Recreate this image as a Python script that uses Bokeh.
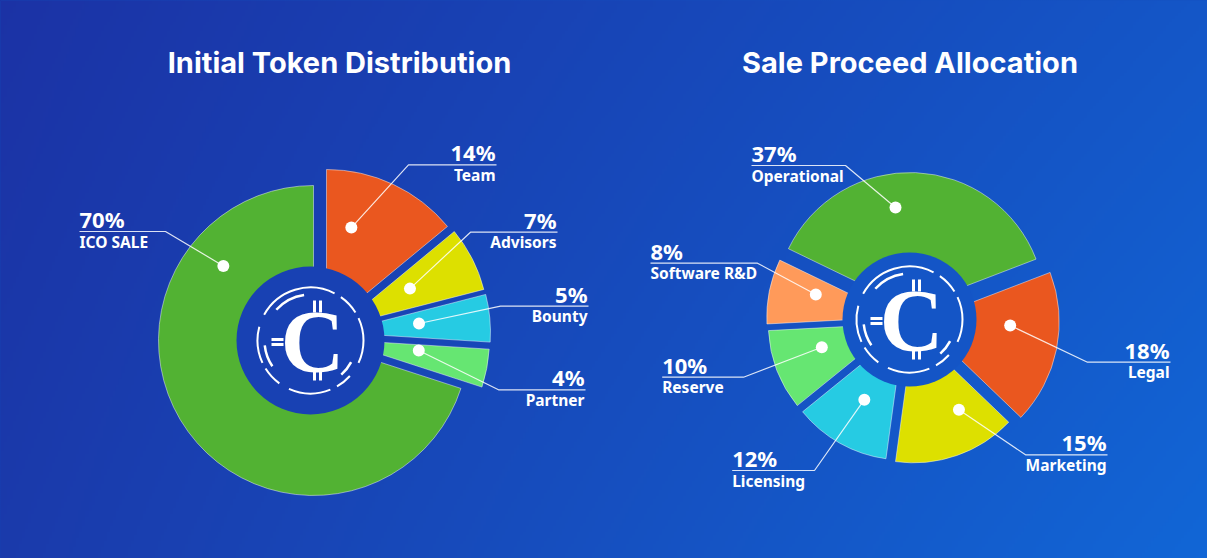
import numpy as np
from bokeh.plotting import figure
from bokeh.models import GlobalInlineStyleSheet
from bokeh.embed import file_html
from bokeh.resources import INLINE
from bokeh.core.properties import value

# ---------------- data ----------------
token_title = "Initial Token Distribution"
token_labels = ["Team", "Advisors", "Bounty", "Partner", "ICO SALE"]   # clockwise from 12 o'clock
token_values = [14, 7, 5, 4, 70]
token_colors = ["#ea571f", "#dde000", "#26cbe3", "#66e672", "#52b233"]

sale_title = "Sale Proceed Allocation"
sale_labels = ["Operational", "Legal", "Marketing", "Licensing", "Reserve", "Software R&D"]
sale_values = [37, 18, 15, 12, 10, 8]
sale_colors = ["#52b233", "#ea571f", "#dde000", "#26cbe3", "#66e672", "#ff9a5a"]

# ---------------- layout (page pixel coordinates, y downwards) ----------------
PAGE_W, PAGE_H = 1207, 558
W, H = 1207, 558


def dy(y):
    return PAGE_H - y


TL = np.array([27, 50, 165.0])
TR = np.array([20, 86, 199.0])
BL = np.array([26, 58, 171.0])
BR = np.array([17, 102, 214.0])


def bg_rgb(x, y):
    u = np.clip(x / PAGE_W, 0, 1)
    v = np.clip(y / PAGE_H, 0, 1)
    top = TL * (1 - u) + TR * u
    bot = BL * (1 - u) + BR * u
    return top * (1 - v) + bot * v


def hexc(rgb):
    r, g, b = [int(round(c)) for c in rgb]
    return "#%02x%02x%02x" % (r, g, b)


p = figure(width=W, height=H, x_range=(0, W), y_range=(0, H),
           output_backend="svg", toolbar_location=None, min_border=0,
           x_axis_location=None, y_axis_location=None)
p.grid.visible = False
p.outline_line_color = None
p.background_fill_color = "#1746b6"
p.border_fill_color = "#1746b6"
p.stylesheets = [GlobalInlineStyleSheet(
    css="html, body { margin: 0; padding: 0; overflow: hidden; "
        "background: linear-gradient(100deg, #1b32a5 0%, #1652c4 60%, #1165d5 100%); }")]

# background gradient
nx, ny = 400, 186
xs = (np.arange(nx) + 0.5) * W / nx
ys = H - (np.arange(ny) + 0.5) * H / ny   # page y of each row (row 0 = bottom)
X, Y = np.meshgrid(xs, ys)
img = np.empty((ny, nx), dtype=np.uint32)
view = img.view(dtype=np.uint8).reshape((ny, nx, 4))
u = X / PAGE_W
v = Y / PAGE_H
for k in range(3):
    top = TL[k] * (1 - u) + TR[k] * u
    bot = BL[k] * (1 - u) + BR[k] * u
    view[:, :, k] = np.round(top * (1 - v) + bot * v).astype(np.uint8)
view[:, :, 3] = 255
p.image_rgba(image=[img], x=0, y=0, dw=W, dh=H)

FONT = value("Noto Sans")


def slice_angles(values, start_deg):
    out, cum = [], 0
    total = float(sum(values))
    for val in values:
        hi = start_deg - cum / total * 360.0
        lo = start_deg - (cum + val) / total * 360.0
        out.append((lo, hi))
        cum += val
    return out


def draw_coin(cx, cy):
    # broken rings
    outer = [(63, 151), (32, 55), (-25, 25), (165, 205), (212, 234), (246, 292), (300, 318)]
    inner = [(98, 138), (186, 214), (312, 332)]
    p.arc(x=[cx] * len(outer), y=[dy(cy)] * len(outer), radius=53,
          start_angle=[np.radians(a) for a, b in outer], end_angle=[np.radians(b) for a, b in outer],
          line_color="white", line_width=2)
    p.arc(x=[cx] * len(inner), y=[dy(cy)] * len(inner), radius=46,
          start_angle=[np.radians(a) for a, b in inner], end_angle=[np.radians(b) for a, b in inner],
          line_color="white", line_width=2.5)
    # stroke bars of the coin sign
    p.rect(x=[cx + 4, cx + 10, cx + 4, cx + 10], y=[dy(cy - 34)] * 2 + [dy(cy + 34)] * 2,
           width=3, height=12, fill_color="white", line_color=None)
    p.rect(x=[cx - 33, cx - 33], y=[dy(cy - 1), dy(cy + 4)],
           width=12, height=3, fill_color="white", line_color=None)
    p.text(x=[cx + 2], y=[dy(cy + 1)], text=["C"], text_font=value("Liberation Serif"),
           text_font_size="88px", text_font_style="bold", text_color="white",
           text_align="center", text_baseline="middle")


def draw_chart(labels, values, colors, centers, radii, start_deg, hole_c, hole_r,
               dot_frac, dot_dist, lab_align, lab_x, lab_u, lab_elbow):
    angs = slice_angles(values, start_deg)
    p.wedge(x=[c[0] for c in centers], y=[dy(c[1]) for c in centers], radius=radii,
            start_angle=[np.radians(lo) for lo, hi in angs],
            end_angle=[np.radians(hi) for lo, hi in angs],
            direction="anticlock", fill_color=colors,
            line_color="white", line_alpha=0.45, line_width=1)
    # centre hole
    p.scatter(x=[hole_c[0]], y=[dy(hole_c[1])], size=2 * hole_r, marker="circle",
              fill_color=hexc(bg_rgb(*hole_c)), line_color=None)
    draw_coin(*hole_c)
    # dots and leader lines
    dxs, dys, lx, ly = [], [], [], []
    for i, (lo, hi) in enumerate(angs):
        a = np.radians(hi - dot_frac[i] * (hi - lo))
        px = centers[i][0] + dot_dist[i] * np.cos(a)
        py = centers[i][1] - dot_dist[i] * np.sin(a)
        dxs.append(px)
        dys.append(dy(py))
        lx.append([px, lab_elbow[i], lab_x[i]])
        ly.append([dy(py), dy(lab_u[i]), dy(lab_u[i])])
    p.multi_line(xs=lx, ys=ly, line_color="white", line_alpha=0.85, line_width=1.2)
    p.scatter(x=dxs, y=dys, size=12, marker="circle", fill_color="white", line_color=None)
    for side in ("left", "right"):
        idx = [i for i in range(len(labels)) if lab_align[i] == side]
        if not idx:
            continue
        off = 0 if side == "left" else -1
        tx = [lab_x[i] + off for i in idx]
        p.text(x=tx, y=[dy(lab_u[i] - 12.5) for i in idx], text=["%d%%" % values[i] for i in idx],
               text_font=FONT, text_font_size="22px", text_font_style="bold",
               text_color="white", text_align=side, text_baseline="middle")
        p.text(x=tx, y=[dy(lab_u[i] + 10) for i in idx], text=[labels[i] for i in idx],
               text_font=FONT, text_font_size="15.5px", text_font_style="bold",
               text_color="white", text_align=side, text_baseline="middle")


# left chart: individually placed slices
left_centers = [(326, 326), (339, 326), (337, 332), (335, 339), (313, 340)]
left_radii = [157, 149, 153, 154, 155]
draw_chart(token_labels, token_values, token_colors, left_centers, left_radii, 90.0,
           (310, 340), 74,
           dot_frac=[0.28, 0.45, 0.45, 0.27, 0.80], dot_dist=[102, 80, 82, 84, 117],
           lab_align=["right", "right", "right", "right", "left"],
           lab_x=[496, 557, 588, 585, 79], lab_u=[164.3, 231.7, 305.7, 389.3, 231],
           lab_elbow=[408, 470, 500, 498, 165])

# right chart: exploded slices around one centre
R_CENTER = (909, 319)
R_START = 154.2
R_EXPLODE = 12
r_angs = slice_angles(sale_values, R_START)
right_centers = []
for lo, hi in r_angs:
    b = np.radians((lo + hi) / 2)
    right_centers.append((R_CENTER[0] + R_EXPLODE * np.cos(b), R_CENTER[1] - R_EXPLODE * np.sin(b)))
right_radii = [135, 138, 132, 130, 130, 131]
draw_chart(sale_labels, sale_values, sale_colors, right_centers, right_radii, R_START,
           R_CENTER, 67,
           dot_frac=[0.42, 0.36, 0.30, 0.50, 0.61, 0.64], dot_dist=[101, 89, 91, 80, 80, 85],
           lab_align=["left", "right", "right", "left", "left", "left"],
           lab_x=[751, 1170, 1107, 731.7, 661.7, 650], lab_u=[165, 361.7, 454.3, 470, 376.7, 262.7],
           lab_elbow=[845, 1087, 1025, 814, 743, 757])

# titles
p.text(x=[339, 909.5], y=[dy(62), dy(62)], text=[token_title, sale_title],
       text_font=value("Inter"), text_font_size="29px", text_font_style="bold",
       text_color="white", text_align="center", text_baseline="middle")

open("out.html", "w").write(file_html(p, INLINE))
